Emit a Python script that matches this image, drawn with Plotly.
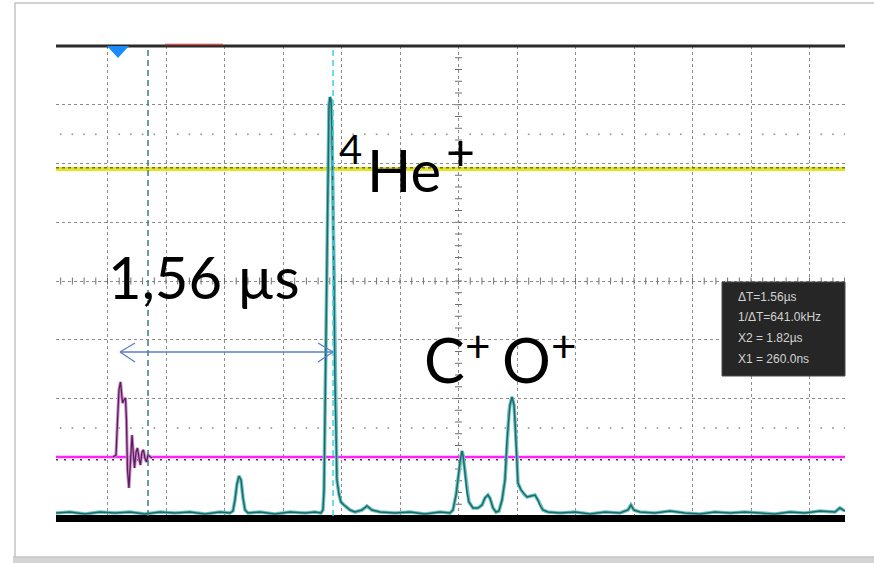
import numpy as np
import plotly.graph_objects as go

# ---------------- data (time in µs, signal in divisions) ----------------
time_teal = [-0.516, -0.398, -0.272, -0.145, -0.019, 0.108, 0.234, 0.361, 0.487, 0.614,
             0.740, 0.867, 0.951, 0.976, 0.993, 1.010, 1.027, 1.044, 1.061, 1.078,
             1.103, 1.204, 1.331, 1.457, 1.583, 1.668, 1.718, 1.735, 1.744, 1.752,
             1.761, 1.769, 1.777, 1.786, 1.794, 1.803, 1.811, 1.820, 1.828, 1.836,
             1.845, 1.853, 1.870, 1.887, 1.912, 1.938, 1.963, 2.005, 2.064, 2.106,
             2.148, 2.216, 2.342, 2.469, 2.595, 2.722, 2.806, 2.831, 2.857, 2.873,
             2.890, 2.907, 2.916, 2.933, 2.949, 2.966, 3.000, 3.042, 3.076, 3.101,
             3.126, 3.143, 3.169, 3.194, 3.219, 3.245, 3.270, 3.287, 3.304, 3.312,
             3.329, 3.346, 3.354, 3.371, 3.379, 3.405, 3.430, 3.455, 3.489, 3.523,
             3.548, 3.565, 3.590, 3.632, 3.734, 3.860, 3.987, 4.113, 4.239, 4.307,
             4.332, 4.357, 4.408, 4.535, 4.661, 4.787, 4.914, 5.040, 5.167, 5.293,
             5.420, 5.546, 5.673, 5.799, 5.926, 6.052, 6.094, 6.137]
volt_teal = [-3.949, -3.932, -3.966, -3.932, -3.949, -3.932, -3.966, -3.932, -3.949, -3.932,
             -3.966, -3.932, -3.949, -3.915, -3.728, -3.455, -3.319, -3.387, -3.694, -3.898,
             -3.949, -3.932, -3.966, -3.932, -3.949, -3.932, -3.949, -3.898, -3.557, -2.366,
             -0.834, 0.868, 2.230, 2.996, 3.132, 3.081, 2.570, 1.379, -0.153, -1.685,
             -2.877, -3.387, -3.626, -3.762, -3.813, -3.864, -3.898, -3.932, -3.898, -3.830,
             -3.898, -3.932, -3.949, -3.932, -3.966, -3.932, -3.949, -3.898, -3.643, -3.387,
             -3.081, -2.894, -2.962, -3.268, -3.591, -3.762, -3.864, -3.864, -3.813, -3.694,
             -3.643, -3.694, -3.864, -3.932, -3.915, -3.728, -3.387, -2.706, -2.230, -2.111,
             -1.974, -2.111, -2.366, -2.996, -3.438, -3.557, -3.626, -3.677, -3.660, -3.643,
             -3.728, -3.813, -3.898, -3.932, -3.949, -3.932, -3.966, -3.932, -3.949, -3.898,
             -3.813, -3.898, -3.932, -3.949, -3.915, -3.949, -3.966, -3.932, -3.949, -3.932,
             -3.949, -3.966, -3.932, -3.949, -3.915, -3.932, -3.864, -3.915]

time_purple = [-0.035, -0.010, 0.003, 0.015, 0.028, 0.036, 0.045, 0.057, 0.070, 0.078,
               0.087, 0.099, 0.112, 0.125, 0.137, 0.146, 0.159, 0.171, 0.184, 0.196,
               0.209, 0.222, 0.234, 0.247, 0.260, 0.277, 0.293]
volt_purple = [-2.996, -2.962, -2.366, -1.855, -1.719, -1.889, -2.077, -2.026, -1.991, -2.366,
               -3.217, -3.523, -3.047, -2.621, -2.962, -3.183, -2.911, -2.843, -3.013, -3.132,
               -2.911, -2.877, -3.013, -3.081, -2.962, -2.996, -3.013]

yellow_t = [-0.516, 6.137]
yellow_v = [1.906, 1.906]
magenta_t = [-0.516, 6.137]
magenta_v = [-2.996, -2.996]

cursor_x1 = 0.26   # µs
cursor_x2 = 1.82   # µs
readout_lines = ["\u0394T=1.56\u00b5s", "1/\u0394T=641.0kHz", "X2 = 1.82\u00b5s", "X1 = 260.0ns"]

# ---------------- geometry ----------------
W, H = 874, 563
L, R, T, B = 56, 845, 46, 516
X0, X1 = -0.516, 6.137
Y0, Y1 = -4, 4
US_PER_DIV = 0.4933
GRID_T0 = -0.0818


def px(x):
    return (x - L) / (R - L)


def py(y):
    return (B - y) / (B - T)


fig = go.Figure()

# graticule decorations
xc = GRID_T0 + 6 * US_PER_DIV
tv = np.arange(Y0, Y1 + 0.001, 0.2)
fig.add_trace(go.Scatter(x=[xc] * len(tv), y=tv, mode="markers",
                         marker=dict(symbol="line-ew", size=5, line=dict(width=1, color="#6f6f6f")),
                         hoverinfo="skip"))
step = US_PER_DIV / 5
kmin = int(np.ceil((X0 - GRID_T0) / step))
kmax = int(np.floor((X1 - GRID_T0) / step))
th = np.array([GRID_T0 + k * step for k in range(kmin, kmax + 1)])
fig.add_trace(go.Scatter(x=th, y=[0] * len(th), mode="markers",
                         marker=dict(symbol="line-ns", size=5, line=dict(width=1, color="#6f6f6f")),
                         hoverinfo="skip"))
dots = [t for k, t in zip(range(kmin, kmax + 1), th) if k % 5 != 0]
for yy in (2.5, -2.5):
    fig.add_trace(go.Scatter(x=dots, y=[yy] * len(dots), mode="markers",
                             marker=dict(symbol="circle", size=2, color="#a0a0a0"),
                             hoverinfo="skip"))

# yellow channel
fig.add_trace(go.Scatter(x=yellow_t, y=yellow_v, mode="lines",
                         line=dict(color="#e4e424", width=4), hoverinfo="skip"))
fig.add_trace(go.Scatter(x=yellow_t, y=[v + 0.02 for v in yellow_v], mode="lines",
                         line=dict(color="#6e6e30", width=1.5, dash="3px,3px"), hoverinfo="skip"))

# magenta channel
fig.add_trace(go.Scatter(x=magenta_t, y=magenta_v, mode="lines",
                         line=dict(color="#ff22ff", width=2.5), hoverinfo="skip"))
fig.add_trace(go.Scatter(x=magenta_t, y=[v - 0.045 for v in magenta_v], mode="lines",
                         line=dict(color="#6b1f6b", width=1.5, dash="2px,6px"), hoverinfo="skip"))

# purple ringing
fig.add_trace(go.Scatter(x=time_purple, y=volt_purple, mode="lines",
                         line=dict(color="#c78fc7", width=3.2), hoverinfo="skip"))
fig.add_trace(go.Scatter(x=time_purple, y=volt_purple, mode="lines",
                         line=dict(color="#5e1a5e", width=1.3), hoverinfo="skip"))

# teal TOF spectrum
fig.add_trace(go.Scatter(x=time_teal, y=volt_teal, mode="lines",
                         line=dict(color="#6fc2c2", width=3.6), hoverinfo="skip"))
fig.add_trace(go.Scatter(x=time_teal, y=volt_teal, mode="lines",
                         line=dict(color="#1d6a6a", width=1.5), hoverinfo="skip"))

shapes = []
# card frame
shapes.append(dict(type="rect", xref="paper", yref="paper", x0=px(13), x1=px(900), y0=py(563), y1=py(556),
                   fillcolor="#d4d4d4", line=dict(width=0), layer="below"))
shapes.append(dict(type="rect", xref="paper", yref="paper", x0=px(15), x1=px(900), y0=py(557), y1=py(3),
                   fillcolor="white", line=dict(color="#c4c4c4", width=1.5), layer="below"))
# top border and red segment
shapes.append(dict(type="line", xref="paper", yref="paper", x0=0, x1=1, y0=1, y1=1,
                   line=dict(color="#2a2a2a", width=3)))
shapes.append(dict(type="line", xref="paper", yref="paper", x0=px(165), x1=px(223), y0=py(44.5), y1=py(44.5),
                   line=dict(color="#cc4a4a", width=1.5)))
# bottom black bar
shapes.append(dict(type="rect", xref="paper", yref="paper", x0=0, x1=1, y0=py(522), y1=py(515),
                   fillcolor="black", line=dict(width=0)))
# trigger marker
shapes.append(dict(type="path", xref="paper", yref="paper",
                   path=f"M {px(107)},{py(46)} L {px(129)},{py(46)} L {px(118)},{py(58)} Z",
                   fillcolor="#1a8cff", line=dict(width=0)))
# cursors
shapes.append(dict(type="line", xref="x", yref="paper", x0=cursor_x1, x1=cursor_x1, y0=0, y1=1,
                   line=dict(color="#3d7d7d", width=1.5, dash="6px,4px")))
shapes.append(dict(type="line", xref="x", yref="paper", x0=cursor_x2, x1=cursor_x2, y0=0, y1=1,
                   line=dict(color="#3fd0e6", width=1.5, dash="6px,4px")))
# double arrow
ay = py(352)
ac = "#5a7ec8"
xa, xb = px(120), px(333)
for seg in [(xa, ay, xb, ay),
            (xa, ay, px(135), py(343)), (xa, ay, px(135), py(362)),
            (xb, ay, px(318), py(343)), (xb, ay, px(318), py(362))]:
    shapes.append(dict(type="line", xref="paper", yref="paper", x0=seg[0], y0=seg[1], x1=seg[2], y1=seg[3],
                       line=dict(color=ac, width=1.3)))
# readout box
shapes.append(dict(type="rect", xref="paper", yref="paper", x0=px(722), x1=px(845), y0=py(376), y1=py(282),
                   fillcolor="#262626", line=dict(color="#4a4a4a", width=1)))

annotations = []
big = "Lato"


def txt(s, x, y, size, xanchor="left", color="black", family=big):
    annotations.append(dict(text=s, x=px(x), y=py(y), xref="paper", yref="paper", showarrow=False,
                            xanchor=xanchor, yanchor="middle", font=dict(family=family, size=size, color=color)))


txt("1,56 \u00b5s", 106, 276, 58)
txt("He", 365, 169, 58)
txt("4", 337, 149, 40)
txt("+", 460, 151, 50, xanchor="center")
txt("C", 422, 359, 61)
txt("+", 478, 345, 44, xanchor="center")
txt("O", 500, 359, 61)
txt("+", 564, 345, 44, xanchor="center")
for i, s in enumerate(readout_lines):
    txt(s, 736, 297 + i * 20.5, 12, color="#d2d2d2", family="Liberation Sans")

fig.update_layout(
    width=W, height=H,
    margin=dict(l=L, r=W - R, t=T, b=H - B),
    paper_bgcolor="white", plot_bgcolor="white",
    showlegend=False,
    shapes=shapes, annotations=annotations,
    xaxis=dict(range=[X0, X1], showticklabels=False, ticks="", zeroline=False, showline=False,
               showgrid=True, gridcolor="#8c8c8c", gridwidth=1, griddash="dot",
               tick0=GRID_T0, dtick=US_PER_DIV, fixedrange=True),
    yaxis=dict(range=[Y0, Y1], showticklabels=False, ticks="", zeroline=False, showline=False,
               showgrid=True, gridcolor="#8c8c8c", gridwidth=1, griddash="dot",
               tick0=0, dtick=1, fixedrange=True),
)

fig.write_html("out.html")
